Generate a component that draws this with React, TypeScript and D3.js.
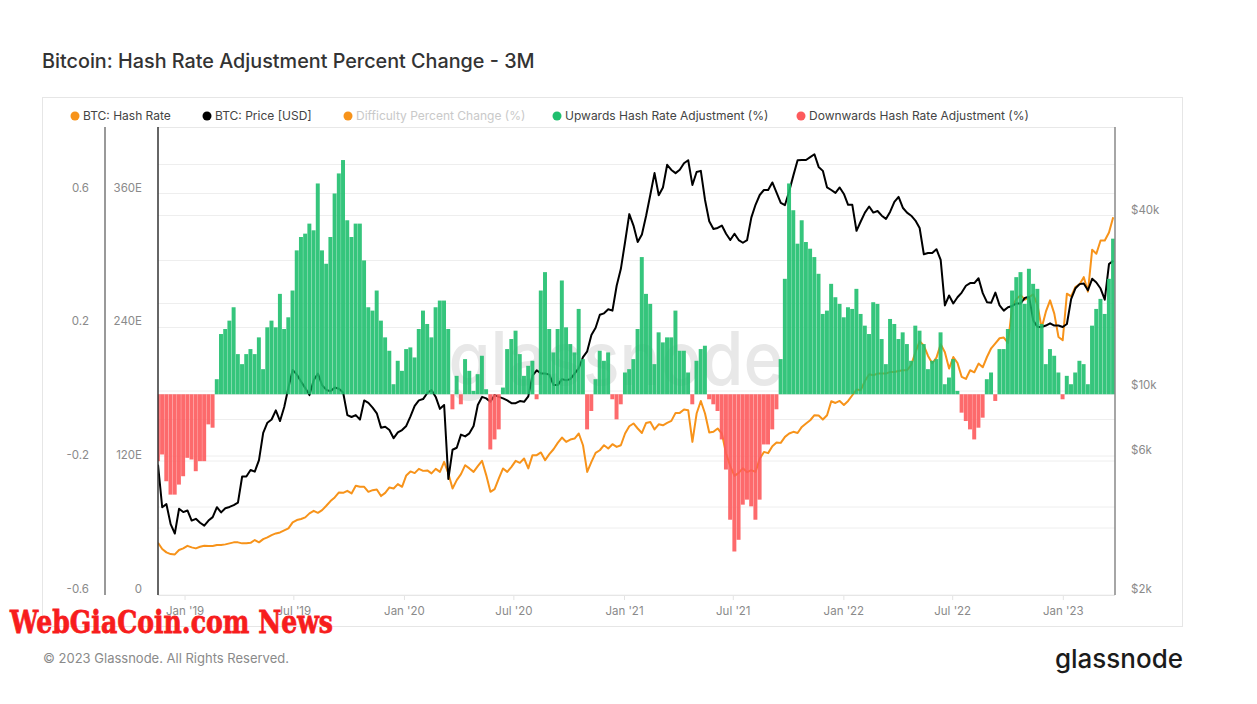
import React from 'react';
import * as d3 from 'd3';

// ---------- DATA (weekly readings, starting 17 Nov 2018) ----------
const START = new Date(2018, 10, 17);
const END = new Date(2023, 2, 28);

// 3M hash-rate adjustment (fraction), positive = upwards, negative = downwards
const adjustment = [
  -0.20, -0.18, -0.26, -0.30, -0.30, -0.27, -0.245, -0.19, -0.195, -0.23, -0.20, -0.20, -0.09, -0.10,
  0.045, 0.18, 0.195, 0.22, 0.26, 0.12, 0.09, 0.12, 0.135, 0.12, 0.17, 0.075, 0.20, 0.22, 0.20, 0.30,
  0.195, 0.23, 0.31, 0.43, 0.47, 0.48, 0.51, 0.49, 0.63, 0.43, 0.39, 0.47, 0.60, 0.66, 0.70, 0.52,
  0.47, 0.51, 0.51, 0.40, 0.26, 0.25, 0.31, 0.22, 0.17, 0.13, 0.03, 0.10,
  0.07, 0.135, 0.14, 0.11, 0.195, 0.25, 0.21, 0.17, 0.26, 0.28, 0.28, 0.195, -0.045, 0.055, -0.03,
  0.105, 0.07, 0.01, 0.06, 0.115, 0.015, -0.165, -0.135, -0.105, 0.02, 0.135, 0.165, 0.19, 0.12,
  0.055, 0.085, 0.10, -0.015, 0.31, 0.365, 0.195, 0.125, 0.195, 0.34, 0.20, 0.15, 0.125, 0.255,
  0.105, -0.105, -0.05, 0.045, 0.13, 0.10, 0.125, -0.015, -0.075, -0.03, 0.065, 0.075, 0.105, 0.195,
  0.41, 0.30, 0.27, 0.09, 0.185, 0.155, 0.17, 0.17, 0.25, 0.13, 0.13, 0.065, -0.03, 0.10, 0.135,
  0.145, -0.015, -0.03, -0.05, -0.135, -0.225, -0.375, -0.47, -0.435, -0.33, -0.315, -0.335, -0.375,
  -0.315, -0.15, -0.15, -0.105, -0.045, 0.105, 0.345, 0.63, 0.55, 0.45, 0.52, 0.455, 0.435, 0.41,
  0.36, 0.24, 0.25, 0.33, 0.29, 0.27, 0.23, 0.26, 0.255, 0.315, 0.24, 0.205, 0.18, 0.275,
  0.27, 0.165, 0.09, 0.225, 0.21, 0.165, 0.185, 0.15, 0.10, 0.205, 0.19, 0.15, 0.075, 0.10, 0.105,
  0.185, 0.03, 0.05, 0.105, 0.01, -0.055, -0.08, -0.105, -0.135, -0.10, -0.07, 0.045, 0.065, -0.02,
  0.135, 0.135, 0.195, 0.31, 0.35, 0.365, 0.27, 0.375, 0.33, 0.315, 0.21, 0.09, 0.135, 0.115, 0.065,
  -0.015, 0.055, 0.03, 0.065, 0.10, 0.09, 0.03, 0.205, 0.255, 0.285, 0.24, 0.345, 0.465,
];

// BTC hash rate (EH/s)
const hashRate = [
  46.8, 41.2, 38.2, 36.7, 36.4, 40.3, 41.8, 44.1, 42.7, 41.8, 43.3, 44.1, 43.9, 43.9, 44.8, 44.8,
  45.4, 46.3, 47.2, 47.2, 46.3, 46.3, 46.8, 49.3, 47.2, 50.1, 51.7, 53.7, 55.2, 56.1, 57.9, 59.7,
  65.1, 67.2, 68.1, 69.6, 73.2, 75.5, 73.7, 76.1, 80, 84.2, 87.5, 92, 91.6, 93.4, 91.1, 97.9, 97, 97,
  92.5, 94, 94.6, 88.7, 91.6, 96.4, 95.5, 99.4,
  97, 107.2, 110.8, 109.3, 113.1, 111.3, 111.7, 109, 113.1, 110.4, 119.4, 109, 95.5, 103, 108.4,
  116.4, 113.5, 110.4, 115.5, 120.3, 107.5, 92.5, 94.9, 104.5, 113.5, 110.4, 114.9, 120.3, 118.5,
  122.4, 113.5, 125.4, 125.4, 127.8, 120.9, 126.3, 130.7, 136.4, 141.2, 137.3, 139.4, 140.3, 144.8,
  134.3, 110.4, 119.4, 127.4, 129.8, 134.3, 131.4, 135.2, 132.8, 134.3, 144.8, 151.3, 153.8, 149.3,
  145.3, 154.3, 155.2, 148.4, 153.1, 152.2, 154.3, 156.1, 163.3, 163.3, 166.3, 165.7, 137.3, 162.7,
  174, 162.7, 145.7, 146.3, 149.3, 144.8, 126.9, 115.5, 106.8, 109.5, 113.7, 110.1, 111.9, 110.4,
  122.1, 128.3, 127.2, 133.4, 136.7, 136.4, 141.8, 144.8, 146.3, 145.3, 150.7, 153.8, 156.7, 161.2,
  160.9, 157.3, 161.2, 173.7, 172.2, 174, 170.4, 174, 179.1, 184.2, 183.6, 191.9, 197.9, 197,
  198.5, 198.5, 198.5, 200, 200, 200.9, 201.5, 201.5, 206.3, 217.6, 227.5, 223.6, 214.3, 207.8,
  212.8, 224.8, 217.6, 203, 213.4, 208, 195.5, 193.7, 201.5, 199.7, 207.5, 204.2, 213.4, 221.2,
  225.7, 230.2, 230.8, 226, 258.8, 265.3, 268.9, 264.8, 267.1, 269.5, 260, 239.4, 254, 264.2, 252.3,
  231.3, 228.4, 270.2, 267.7, 276, 278.5, 285, 272, 309.6, 306, 317.9, 317.9, 325, 338.8,
];

// BTC price (USD)
const price = [
  5600, 4000, 4100, 3500, 3250, 3950, 3850, 3900, 3600, 3650, 3540, 3460, 3600, 3700, 4000, 3840,
  3970, 4010, 4070, 4150, 5100, 5100, 5370, 5300, 5800, 7200, 7800, 8000, 8600, 7900, 8830, 10300,
  11830, 11400, 10800, 10250, 9700, 10900, 11500, 10500, 10100, 10000, 10300, 10200, 9900, 8280,
  8160, 8280, 7990, 9300, 9120, 8790, 8400, 7500, 7550, 7360, 6900, 7220,
  7360, 7600, 8200, 8900, 9300, 9400, 9860, 10100, 9560, 8700, 8970, 5000, 6300, 6400, 7100, 7000,
  7170, 7600, 8970, 9560, 9450, 9200, 9700, 9560, 9450, 9300, 9100, 9100, 9250, 9200, 9600, 11300,
  11800, 11500, 11500, 11400, 10500, 10500, 11000, 10900, 11000, 11500, 12000, 13100, 13700, 15600,
  16500, 18300, 18500, 19100, 18900, 23000, 26300, 32500, 40500, 37000, 32500,
  34500, 40000, 47200, 56000, 47000, 50000, 59800, 57400, 56000, 57500, 60500, 62000, 51000, 56500,
  57000, 45300, 38300, 36000, 36300, 37000, 34700, 33000, 34700, 33000, 32300, 33000, 39400, 43600,
  47100, 49000, 49000, 52000, 48000, 44300, 43500, 48500, 55000, 62000, 62100, 62100, 63500, 65000,
  58800, 57000, 50000, 49000, 47900, 50000, 47500, 43600, 43600, 35500, 38200, 41000, 43000, 41000,
  41500, 40000, 39000, 41300, 44600, 46400, 42600, 41000, 40000, 38500, 36300, 29500, 29800, 29800,
  30700, 28200, 19700, 21300, 20000, 21000, 21800, 23000, 23500, 23500, 24400, 21700, 20200, 20100,
  21800, 19700, 18900, 19400, 19600, 20000, 20000, 20900, 21100, 17500, 16600, 16600, 16800, 17100,
  16800, 16800, 16600, 17000, 20700, 22500, 23300, 23400, 22200, 24300, 23600, 22500, 20600, 27300,
  28000,
];

const diffTickValues = [-0.6, -0.2, 0.2, 0.6];
const diffGridValues = [-0.6, -0.4, -0.2, 0, 0.2, 0.4, 0.6];
const hashTickValues = [0, 120, 240, 360];
const priceTickValues = [2000, 6000, 10000, 40000];
const priceGridValues = [2000, 4000, 6000, 8000, 10000, 20000, 40000, 60000];
const xTickDates = [
  new Date(2019, 0, 1), new Date(2019, 6, 1), new Date(2020, 0, 1), new Date(2020, 6, 1),
  new Date(2021, 0, 1), new Date(2021, 6, 1), new Date(2022, 0, 1), new Date(2022, 6, 1),
  new Date(2023, 0, 1),
];

const legendLabels = [
  'BTC: Hash Rate',
  'BTC: Price [USD]',
  'Difficulty Percent Change (%)',
  'Upwards Hash Rate Adjustment (%)',
  'Downwards Hash Rate Adjustment (%)',
];

// ---------- STYLE / LAYOUT ----------
const W = 1257, H = 704;
const L = 158, R = 1115, T = 127, B = 595;
const ORANGE = '#f7931a';
const GREEN = '#1fbf6e';
const RED = '#fd5a5c';
const FONT = 'Inter, "Noto Sans", sans-serif';
const legendX = [75, 207, 348, 557, 801];
const legendDot = [ORANGE, '#000', ORANGE, GREEN, RED];
const legendText = ['#444', '#444', '#c9c9c9', '#444', '#444'];

export default function App() {
  const dates = adjustment.map((_, i) => d3.timeDay.offset(START, 7 * i));
  const x = d3.scaleTime().domain([START, END]).range([L, R]);
  const yDiff = d3.scaleLinear().domain([-0.6, 0.6]).range([B, 193.5]);
  const yHash = d3.scaleLinear().domain([0, 360]).range([B, 193.5]);
  const yPrice = d3.scaleLog().domain([2000, 40000]).range([B, 215.7]);

  const hashLine = d3.line<number>().x((_, i) => x(dates[i])).y((v) => yHash(v))(hashRate) || '';
  const priceLine = d3.line<number>().x((_, i) => x(dates[i])).y((v) => yPrice(v))(price) || '';
  const half = 3.5 * 864e5;
  const y0 = yDiff(0);

  const gridYs = Array.from(
    new Set([
      ...diffGridValues.map((v) => Math.round(yDiff(v) * 2) / 2),
      ...priceGridValues.map((v) => Math.round(yPrice(v) * 2) / 2),
    ])
  );
  const fmtTick = d3.timeFormat("%b '%y");

  return (
    <svg width={W} height={H} style={{ position: 'absolute', left: 0, top: 0, background: '#fff' }}
      xmlns="http://www.w3.org/2000/svg">
      <defs>
        <clipPath id="plot"><rect x={L} y={T} width={R - L} height={B - T} /></clipPath>
      </defs>
      <rect x={0} y={0} width={W} height={H} fill="#fff" />
      <text x={42} y={68} fontFamily={FONT} fontSize={19.8} fontWeight={500} fill="#333">
        Bitcoin: Hash Rate Adjustment Percent Change - 3M
      </text>
      <rect x={42.5} y={97.5} width={1140} height={529} fill="none" stroke="#e6e6e6" />

      {/* legend */}
      {legendLabels.map((lab, i) => (
        <g key={lab}>
          <circle cx={legendX[i]} cy={116} r={4.5} fill={legendDot[i]} />
          <text x={legendX[i] + 8} y={120} fontFamily={FONT} fontSize={12} fill={legendText[i]}>{lab}</text>
        </g>
      ))}

      {/* grid */}
      <line x1={L} x2={R} y1={T + 0.5} y2={T + 0.5} stroke="#e8e8e8" />
      {gridYs.map((gy) => (
        <line key={gy} x1={L} x2={R} y1={gy} y2={gy} stroke="#eeeeee" strokeWidth={1} />
      ))}
      {xTickDates.map((d) => (
        <line key={+d} x1={x(d)} x2={x(d)} y1={B} y2={B + 5} stroke="#e3e3e3" />
      ))}

      {/* watermark */}
      <text x={616} y={385} textAnchor="middle" fontFamily={FONT} fontSize={74} fontWeight={500}
        fill="#e8e8e8" textLength={335} lengthAdjust="spacingAndGlyphs">glassnode</text>

      <g clipPath="url(#plot)">
        <path d={hashLine} fill="none" stroke={ORANGE} strokeWidth={2} strokeLinejoin="round" />
        <path d={priceLine} fill="none" stroke="#000" strokeWidth={2} strokeLinejoin="round" />
        {adjustment.map((v, i) => {
          const xa = x(new Date(+dates[i] - half));
          const xb = x(new Date(+dates[i] + half));
          const yv = yDiff(v);
          return (
            <rect key={i} x={xa} width={Math.max(0.5, xb - xa - 0.25)} y={Math.min(yv, y0)} height={Math.abs(yv - y0)}
              fill={v >= 0 ? GREEN : RED} fillOpacity={0.9} />
          );
        })}
      </g>

      {/* axis lines */}
      <line x1={105} x2={105} y1={T} y2={B} stroke="#777" strokeWidth={1.5} />
      <line x1={L} x2={L} y1={T} y2={B} stroke="#333" strokeWidth={1.5} />
      <line x1={R} x2={R} y1={T} y2={B} stroke="#888" strokeWidth={1.5} />
      <line x1={L} x2={R} y1={B + 0.5} y2={B + 0.5} stroke="#e6e6e6" />

      {/* axis labels */}
      {diffTickValues.map((v) => (
        <text key={v} x={89} y={yDiff(v) - 2} textAnchor="end" fontFamily={FONT} fontSize={11.5} fill="#8a8a8a">
          {d3.format('.1f')(v).replace('−', '-')}
        </text>
      ))}
      {hashTickValues.map((v) => (
        <text key={v} x={142} y={yHash(v) - 2} textAnchor="end" fontFamily={FONT} fontSize={11.5} fill="#8a8a8a">
          {v === 0 ? '0' : `${v}E`}
        </text>
      ))}
      {priceTickValues.map((v) => (
        <text key={v} x={1131} y={yPrice(v) - 2} fontFamily={FONT} fontSize={11.5} fill="#8a8a8a">
          {`$${v / 1000}k`}
        </text>
      ))}
      {xTickDates.map((d) => (
        <text key={+d} x={x(d)} y={615} textAnchor="middle" fontFamily={FONT} fontSize={11.5} fill="#8a8a8a">
          {fmtTick(d)}
        </text>
      ))}

      {/* footer */}
      <text x={43} y={663} fontFamily={FONT} fontSize={13} fill="#8a8a8a">© 2023 Glassnode. All Rights Reserved.</text>
      <text x={1183} y={668} textAnchor="end" fontFamily={FONT} fontSize={26} fontWeight={500} fill="#1b1b1b">glassnode</text>

      {/* overlay watermark of the source image */}
      <text x={10} y={633} fontFamily='"DejaVu Serif", serif' fontWeight={700} fontSize={31} fill="#f71d1d"
        stroke="#f71d1d" strokeWidth={0.8}
        textLength={323} lengthAdjust="spacingAndGlyphs">WebGiaCoin.com News</text>
    </svg>
  );
}
